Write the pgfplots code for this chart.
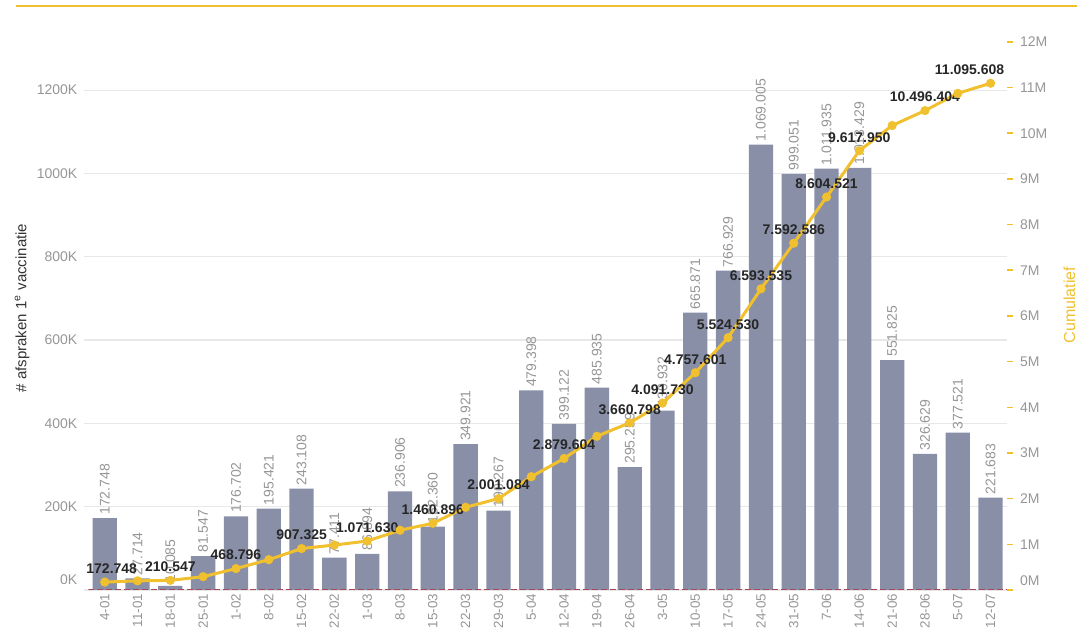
\documentclass[border=0pt]{standalone}
\usepackage{pgfplots}
\pgfplotsset{compat=1.18}
\usepackage{pgfplotstable}
\usepackage{fontspec}
\setmainfont{Liberation Sans}

\definecolor{barc}{RGB}{136,143,167}
\definecolor{gold}{RGB}{240,192,46}
\definecolor{lbl}{RGB}{150,150,150}
\definecolor{gridc}{RGB}{232,232,232}
\definecolor{zeroc}{RGB}{170,70,90}
\newcommand\ft{\fontsize{7}{8.4}\selectfont}

% weekly first-dose appointments
\pgfplotstableread{
x v lab
0 172748 172.748
1 27714 27.714
2 10085 10.085
3 81547 81.547
4 176702 176.702
5 195421 195.421
6 243108 243.108
7 77411 77.411
8 86894 86.894
9 236906 236.906
10 152360 152.360
11 349921 349.921
12 190267 190.267
13 479398 479.398
14 399122 399.122
15 485935 485.935
16 295259 295.259
17 430932 430.932
18 665871 665.871
19 766929 766.929
20 1069005 1.069.005
21 999051 999.051
22 1011935 1.011.935
23 1013429 1.013.429
24 551825 551.825
25 326629 326.629
26 377521 377.521
27 221683 221.683
}\weekly

\pgfplotsset{
  frame/.style={
    at={(44.15pt,20pt)}, anchor=south west,
    scale only axis, width=459.35pt, height=277.5pt,
    xmin=-0.5, xmax=27.5, ymin=0,
    scaled y ticks=false,
    tick label style={font=\ft, text=lbl},
  },
}

\begin{document}
\begin{tikzpicture}
\useasboundingbox (0,0) rectangle (538.5pt,315pt);
\draw[gold, line width=1.2pt] (8pt,312pt) -- (538.5pt,312pt);

\begin{axis}[frame,
  ymax=1332500,
  axis lines=left, axis line style={draw=none},
  xtick={0,...,27},
  xticklabels={4-01,11-01,18-01,25-01,1-02,8-02,15-02,22-02,1-03,8-03,15-03,
    22-03,29-03,5-04,12-04,19-04,26-04,3-05,10-05,17-05,24-05,31-05,7-06,
    14-06,21-06,28-06,5-07,12-07},
  x tick label style={rotate=90, anchor=east,
    font=\fontsize{6.7}{8}\selectfont},
  xticklabel shift=-3.5pt,
  xtick style={draw=none},
  ytick={200000,400000,...,1200000},
  yticklabels={200K,400K,600K,800K,1000K,1200K},
  extra y ticks={0}, extra y tick labels={0K},
  extra y tick style={yticklabel style={yshift=5pt}},
  ytick style={gridc, line width=0.6pt},
  tick align=outside, major tick length=2pt,
  ymajorgrids, grid style={gridc, line width=0.6pt},
]
\addplot[ybar, bar width=0.74, fill=barc, draw=none,
  point meta=explicit symbolic, nodes near coords,
  nodes near coords style={rotate=90, anchor=west, font=\ft, text=lbl,
    inner sep=1.5pt}]
  table[x=x, y=v, meta=lab] {\weekly};
\draw[zeroc, line width=0.8pt, dash pattern=on 3pt off 1.5pt]
  (axis cs:-0.5,0) -- (axis cs:27.5,0);
\end{axis}

\begin{axis}[frame,
  ymax=12152000,
  axis x line=none, axis y line*=right, y axis line style={draw=none},
  ytick={1000000,2000000,...,12000000},
  yticklabels={1M,2M,3M,4M,5M,6M,7M,8M,9M,10M,11M,12M},
  extra y ticks={0}, extra y tick labels={0M},
  extra y tick style={yticklabel style={yshift=4.5pt}},
  ytick style={gold, line width=0.8pt},
  tick align=outside, major tick length=3pt,
]
\addplot[gold, line width=1.5pt, mark=*, mark size=1.5pt,
  mark options={fill=gold, draw=gold},
  point meta=explicit symbolic, nodes near coords,
  visualization depends on={x \as \xv},
  nodes near coords style={font=\ft\bfseries, text=black!85, anchor=south,
    inner sep=1pt, yshift=2.5pt,
    xshift={ifthenelse(\xv<0.5,3.5,ifthenelse(\xv>26.5,-10.5,0))}}]
  coordinates {
  (0,172748) [172.748]
  (1,200462) []
  (2,210547) [210.547]
  (3,292094) []
  (4,468796) [468.796]
  (5,664217) []
  (6,907325) [907.325]
  (7,984736) []
  (8,1071630) [1.071.630]
  (9,1308536) []
  (10,1460896) [1.460.896]
  (11,1810817) []
  (12,2001084) [2.001.084]
  (13,2480482) []
  (14,2879604) [2.879.604]
  (15,3365539) []
  (16,3660798) [3.660.798]
  (17,4091730) [4.091.730]
  (18,4757601) [4.757.601]
  (19,5524530) [5.524.530]
  (20,6593535) [6.593.535]
  (21,7592586) [7.592.586]
  (22,8604521) [8.604.521]
  (23,9617950) [9.617.950]
  (24,10169775) []
  (25,10496404) [10.496.404]
  (26,10873925) []
  (27,11095608) [11.095.608]
  };
\end{axis}

\node[rotate=90, font=\fontsize{7.5}{9}\selectfont, text=black!80]
  at (11pt,161pt) {\# afspraken 1\textsuperscript{e} vaccinatie};
\node[rotate=90, anchor=north, inner sep=0pt,
  font=\fontsize{8}{9.6}\selectfont, text=gold]
  at (531.5pt,162.5pt) {Cumulatief};
\end{tikzpicture}
\end{document}
